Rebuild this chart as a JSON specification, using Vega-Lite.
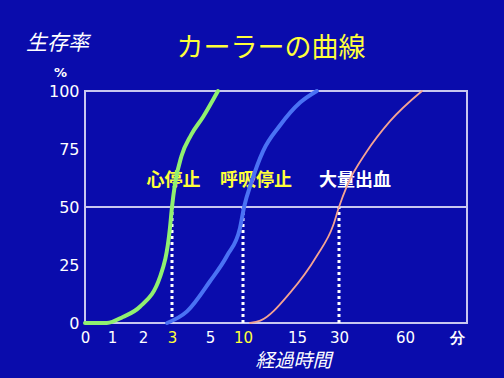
{
  "$schema": "https://vega.github.io/schema/vega-lite/v6.json",
  "width": 382,
  "height": 232,
  "autosize": "none",
  "padding": {"left": 85, "top": 91, "right": 37, "bottom": 55},
  "background": "#0a0cac",
  "config": {
    "view": {"stroke": "#c8c8f0", "strokeWidth": 2},
    "font": "Noto Sans CJK JP"
  },
  "title": {
    "text": "カーラーの曲線",
    "anchor": "middle",
    "dx": -5,
    "offset": -31,
    "fontSize": 27,
    "fontWeight": "normal",
    "color": "#ffff3a",
    "font": "Noto Sans CJK JP"
  },
  "datasets": {
    "curves": [
      {"series": "心停止", "t": 0, "s": 0},
      {"series": "心停止", "t": 0.81, "s": 0},
      {"series": "心停止", "t": 1.35, "s": 2.6},
      {"series": "心停止", "t": 1.9, "s": 7},
      {"series": "心停止", "t": 2.59, "s": 20},
      {"series": "心停止", "t": 2.93, "s": 41},
      {"series": "心停止", "t": 3, "s": 50},
      {"series": "心停止", "t": 3.16, "s": 60},
      {"series": "心停止", "t": 3.5, "s": 72},
      {"series": "心停止", "t": 4.0, "s": 81},
      {"series": "心停止", "t": 4.65, "s": 89},
      {"series": "心停止", "t": 6.21, "s": 100},
      {"series": "呼吸停止", "t": 2.83, "s": 0},
      {"series": "呼吸停止", "t": 3.79, "s": 5},
      {"series": "呼吸停止", "t": 5, "s": 18},
      {"series": "呼吸停止", "t": 7.58, "s": 29},
      {"series": "呼吸停止", "t": 9.55, "s": 41},
      {"series": "呼吸停止", "t": 10.1, "s": 50},
      {"series": "呼吸停止", "t": 10.8, "s": 61},
      {"series": "呼吸停止", "t": 11.85, "s": 74},
      {"series": "呼吸停止", "t": 13.4, "s": 85},
      {"series": "呼吸停止", "t": 16.1, "s": 95},
      {"series": "呼吸停止", "t": 22.1, "s": 100},
      {"series": "大量出血", "t": 10.65, "s": 0},
      {"series": "大量出血", "t": 11.6, "s": 1},
      {"series": "大量出血", "t": 14.35, "s": 13},
      {"series": "大量出血", "t": 22.1, "s": 29},
      {"series": "大量出血", "t": 27.9, "s": 42},
      {"series": "大量出血", "t": 30, "s": 50},
      {"series": "大量出血", "t": 33.6, "s": 59},
      {"series": "大量出血", "t": 42.7, "s": 74},
      {"series": "大量出血", "t": 53.2, "s": 87},
      {"series": "大量出血", "t": 68.2, "s": 100}
    ],
    "halftime": [
      {"series": "心停止", "t": 3},
      {"series": "呼吸停止", "t": 10},
      {"series": "大量出血", "t": 30}
    ],
    "labels": [
      {"label": "心停止", "t": 3.08, "s": 61},
      {"label": "呼吸停止", "t": 11.2, "s": 61},
      {"label": "大量出血", "t": 37.3, "s": 61}
    ],
    "half": [{"s": 50}]
  },
  "resolve": {"axis": {"y": "independent"}},
  "layer": [
    {
      "data": {"name": "half"},
      "mark": {"type": "rule", "color": "#c8c8f0", "strokeWidth": 2},
      "encoding": {
        "y": {"field": "s", "type": "quantitative", "scale": {"domain": [0, 100], "nice": false, "zero": false}, "axis": null}
      }
    },
    {
      "data": {"name": "halftime"},
      "mark": {"type": "rule", "color": "white", "strokeWidth": 3, "strokeDash": [3, 3]},
      "encoding": {
        "x": {"field": "t", "type": "quantitative"},
        "y": {"datum": 0, "type": "quantitative", "axis": null},
        "y2": {"datum": 50}
      }
    },
    {
      "data": {"name": "labels"},
      "mark": {"type": "text", "font": "Noto Sans CJK JP", "fontSize": 18, "fontWeight": "bold", "align": "center", "baseline": "middle"},
      "encoding": {
        "x": {"field": "t", "type": "quantitative"},
        "y": {
          "field": "s",
          "type": "quantitative",
          "axis": {
            "orient": "right",
            "labels": false,
            "ticks": false,
            "domain": false,
            "grid": false,
            "title": "生存率",
            "titleAngle": 0,
            "titleX": -410,
            "titleY": -48,
            "titleAlign": "center",
            "titleBaseline": "middle",
            "titleFont": "Noto Sans CJK JP",
            "titleFontSize": 21,
            "titleFontStyle": "italic",
            "titleFontWeight": "normal",
            "titleColor": "white"
          }
        },
        "text": {"field": "label"},
        "color": {"condition": {"test": "datum.label == '大量出血'", "value": "white"}, "value": "#ffff3a"}
      }
    },
    {
      "data": {"name": "curves"},
      "mark": {"type": "line", "interpolate": "monotone", "strokeCap": "round"},
      "encoding": {
        "x": {
          "field": "t",
          "type": "quantitative",
          "scale": {
            "domain": [0, 1, 2, 3, 5, 10, 15, 30, 60, 90],
            "range": [0, 27, 58, 87, 125, 158, 212, 254, 320, 382],
            "nice": false,
            "zero": false
          },
          "axis": {
            "values": [0, 1, 2, 3, 5, 10, 15, 30, 60, 85],
            "labelExpr": "datum.value == 85 ? '分' : datum.label",
            "labelColor": {"condition": {"test": "datum.value == 3 || datum.value == 10", "value": "#ffff3a"}, "value": "white"},
            "labelFontWeight": {"condition": {"test": "datum.value == 85", "value": "bold"}, "value": "normal"},
            "labelFont": "DejaVu Sans",
            "labelFontSize": 15,
            "labelPadding": 7,
            "labelOverlap": false,
            "labelFlush": false,
            "ticks": false,
            "domain": false,
            "grid": false,
            "title": "経過時間",
            "titleFont": "Noto Sans CJK JP",
            "titleFontSize": 19,
            "titleFontStyle": "italic",
            "titleFontWeight": "normal",
            "titleColor": "white",
            "titleX": 208,
            "titleY": 37,
            "titleAlign": "center",
            "titleBaseline": "middle"
          }
        },
        "y": {
          "field": "s",
          "type": "quantitative",
          "scale": {"domain": [0, 100], "nice": false, "zero": false},
          "axis": {
            "orient": "left",
            "values": [0, 25, 50, 75, 100],
            "labelFont": "DejaVu Sans",
            "labelFontSize": 16,
            "labelColor": "white",
            "labelPadding": 6,
            "ticks": false,
            "domain": false,
            "grid": false,
            "title": "%",
            "titleAngle": 0,
            "titleX": -25,
            "titleY": -19,
            "titleAlign": "center",
            "titleBaseline": "middle",
            "titleFont": "DejaVu Sans",
            "titleFontSize": 13,
            "titleFontWeight": "bold",
            "titleColor": "white"
          }
        },
        "color": {
          "field": "series",
          "type": "nominal",
          "scale": {"domain": ["心停止", "呼吸停止", "大量出血"], "range": ["#90f070", "#4a72f4", "#f4a392"]},
          "legend": null
        },
        "strokeWidth": {
          "condition": {"test": "datum.series == '大量出血'", "value": 1.8},
          "value": 4
        }
      }
    }
  ]
}
